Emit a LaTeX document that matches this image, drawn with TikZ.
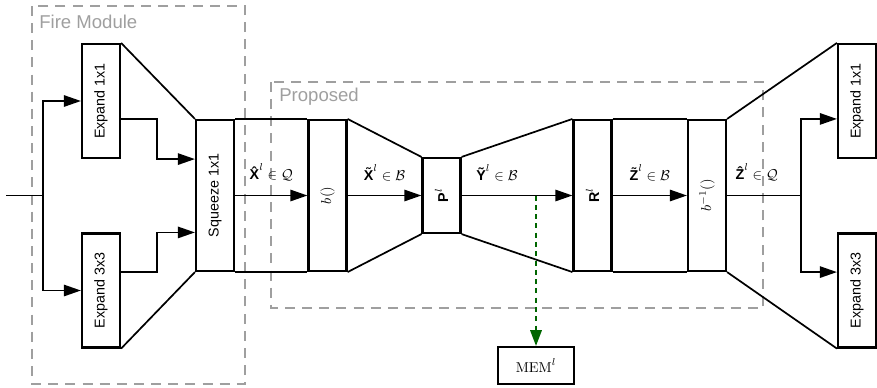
\documentclass[tikz,border=0pt]{standalone}
\usepackage{fontspec}
\setsansfont{Liberation Sans}
\usetikzlibrary{arrows.meta}
\newcommand{\vsf}[1]{\mbox{\sffamily\bfseries #1}}

\begin{document}
\begin{tikzpicture}[x=0.7pt, y=-0.7pt,
  block/.style={draw, line width=1.5pt, inner sep=0pt, minimum width=26.6pt, font=\sffamily},
  tall/.style={block, minimum height=105.7pt},
  expand/.style={block, minimum height=79.8pt},
  flow/.style={line width=1.2pt},
  arr/.style={flow, -{Triangle[length=12pt,width=8pt]}},
  lbl/.style={above=6pt},
  frame/.style={draw=gray!75, line width=0.8pt, dash pattern=on 7pt off 5pt},
  framelabel/.style={text=gray!75, font=\sffamily\fontsize{13}{15}\selectfont, inner sep=0pt, anchor=west},
  memarr/.style={line width=1.3pt, draw=green!40!black, dash pattern=on 3.5pt off 3pt, -{Triangle[length=11pt,width=8pt]}}
  ]
  \useasboundingbox (0,0) rectangle (877,387);

  % module frames
  \draw[frame] (32,6) rectangle (245,384);
  \draw[frame] (271,82) rectangle (763,308);
  \node[framelabel] (firelbl) at (39,22) {Fire Module};
  \node[framelabel] (proplbl) at (279,97) {Proposed};

  \node[expand] (e1L) at (101,101) {\rotatebox{90}{Expand 1x1}};
  \node[expand] (e3L) at (101,290.5) {\rotatebox{90}{Expand 3x3}};
  \node[tall] (sq) at (215,195.5) {\rotatebox{90}{Squeeze 1x1}};
  \node[tall] (bq) at (327.5,195.5) {\rotatebox{90}{$b()$}};
  \node[block, minimum height=52.5pt] (pl) at (441.5,195.5) {\rotatebox{90}{$\vsf{P}^l$}};
  \node[tall] (rl) at (592.5,195.5) {\rotatebox{90}{$\vsf{R}^l$}};
  \node[tall] (bi) at (707,195.5) {\rotatebox{90}{$b^{-1}()$}};
  \node[expand] (e1R) at (857,101) {\rotatebox{90}{Expand 1x1}};
  \node[expand] (e3R) at (857,290.5) {\rotatebox{90}{Expand 3x3}};
  \node[block, minimum width=53.2pt, minimum height=25.9pt] (mem) at (536,365.5) {$\mathrm{MEM}^l$};

  \coordinate (in) at (6,195.5);
  \coordinate (spL) at (43,195.5);
  \coordinate (jL) at (157,195.5);
  \coordinate (spR) at (801,195.5);

  % fire module in
  \draw[flow] (in) -- (spL);
  \draw[arr] (spL) |- (e1L.west);
  \draw[arr] (spL) |- (e3L.west);
  \draw[arr] (e1L.east |- sq.north) -| (jL |- e1L.south) -- (sq.west |- e1L.south);
  \draw[arr] (e3L.east |- sq.south) -| (jL |- e3L.north) -- (sq.west |- e3L.north);
  \draw[flow] (e1L.north east) -- (sq.north west);
  \draw[flow] (e3L.south east) -- (sq.south west);

  % proposed
  \draw[flow] (sq.north east) -- (bq.north west);
  \draw[flow] (sq.south east) -- (bq.south west);
  \draw[arr] (sq) -- (bq) node[midway, lbl] {$\vsf{\^X}^l \in \mathcal{Q}$};
  \draw[flow] (bq.north east) -- (pl.north west);
  \draw[flow] (bq.south east) -- (pl.south west);
  \draw[arr] (bq) -- (pl) node[midway, lbl] {$\vsf{\~X}^l \in \mathcal{B}$};
  \draw[flow] (pl.north east) -- (rl.north west);
  \draw[flow] (pl.south east) -- (rl.south west);
  \draw[arr] (pl) -- (rl) node[pos=0.32, lbl] {$\vsf{\~Y}^l \in \mathcal{B}$};
  \draw[flow] (rl.north east) -- (bi.north west);
  \draw[flow] (rl.south east) -- (bi.south west);
  \draw[arr] (rl) -- (bi) node[midway, lbl] {$\vsf{\~Z}^l \in \mathcal{B}$};
  \draw[memarr] (mem |- pl.east) -- (mem.north);

  % fire module out
  \draw[flow] (bi) -- (spR) node[pos=0.4, lbl] {$\vsf{\^Z}^l \in \mathcal{Q}$};
  \draw[arr] (spR) |- (e1R.west |- bi.north);
  \draw[arr] (spR) |- (e3R.west |- bi.south);
  \draw[flow] (bi.north east) -- (e1R.north west);
  \draw[flow] (bi.south east) -- (e3R.south west);
\end{tikzpicture}
\end{document}
